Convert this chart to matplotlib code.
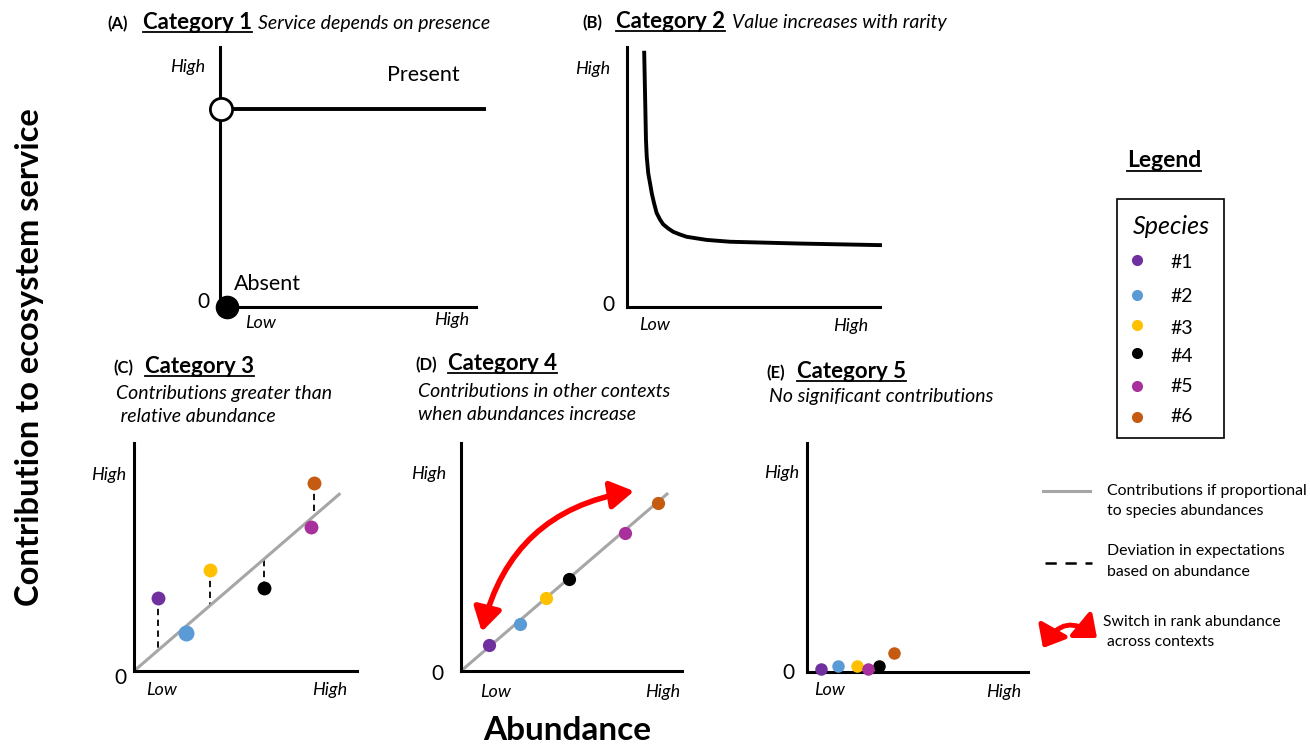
import matplotlib
matplotlib.use('Agg')
import matplotlib.pyplot as plt
from matplotlib.patches import FancyArrowPatch, Rectangle

plt.rcParams['font.family'] = ['Lato', 'DejaVu Sans']

W, H = 1310, 744

# species
species = ['#1', '#2', '#3', '#4', '#5', '#6']
species_colors = ['#7030A0', '#5B9BD5', '#FFC000', '#000000', '#A8309C', '#C55A11']

# (A) category 1: presence / absence
cat1_present_level = 0.76
cat1_present_x = [0.0, 1.04]
cat1_absent = (0.027, 0.0)

# (B) category 2: value increases with rarity
cat2_x = [0.068, 0.071, 0.075, 0.078, 0.084, 0.091, 0.098, 0.107, 0.117, 0.130,
          0.143, 0.163, 0.183, 0.209, 0.236, 0.315, 0.407, 0.526, 0.684, 1.0]
cat2_y = [0.978, 0.835, 0.642, 0.578, 0.514, 0.476, 0.437, 0.399, 0.362, 0.337,
          0.318, 0.302, 0.289, 0.279, 0.270, 0.258, 0.251, 0.248, 0.244, 0.238]

# (C) category 3
cat3_abund = [0.108, 0.233, 0.341, 0.583, 0.794, 0.807]
cat3_contrib = [0.320, 0.167, 0.443, 0.364, 0.632, 0.825]
cat3_sizes = [10, 11.5, 10, 10, 10, 10]
cat3_deviates = [True, False, True, True, False, True]
cat3_line_x = [0.0, 0.92]
cat3_line_y = [0.0, 0.775]

# (D) category 4
cat4_abund = [0.127, 0.267, 0.385, 0.489, 0.742, 0.891]
cat4_contrib = [0.114, 0.206, 0.320, 0.404, 0.605, 0.737]
cat4_line_x = [0.0, 0.932]
cat4_line_y = [0.0, 0.776]
cat4_switch = [(0.094, 0.172), (0.783, 0.789)]

# (E) category 5
cat5_abund = [0.063, 0.140, 0.226, 0.326, 0.276, 0.394]
cat5_contrib = [0.013, 0.026, 0.026, 0.026, 0.013, 0.083]

GRAY = '#A6A6A6'
RED = '#FF0000'

fig = plt.figure(figsize=(W / 100, H / 100), dpi=100)


def px_axes(x0, y0, x1, y1):
    ax = fig.add_axes([x0 / W, 1 - y1 / H, (x1 - x0) / W, (y1 - y0) / H])
    ax.set_xlim(0, 1)
    ax.set_ylim(0, 1)
    for s in ['top', 'right']:
        ax.spines[s].set_visible(False)
    for s in ['left', 'bottom']:
        ax.spines[s].set_linewidth(2.2)
        ax.spines[s].set_color('black')
    ax.set_xticks([])
    ax.set_yticks([])
    ax.patch.set_alpha(0)
    return ax


# overlay in pixel coordinates for all the text
ov = fig.add_axes([0, 0, 1, 1], zorder=10)
ov.set_xlim(0, W)
ov.set_ylim(H, 0)
ov.axis('off')
ov.patch.set_alpha(0)


def txt(x, y, s, **kw):
    kw.setdefault('ha', 'center')
    kw.setdefault('va', 'center')
    return ov.text(x, y, s, **kw)


underlined = []


def title(x_lab, x_cat, x_sub, y, lab, cat, sub=None, sub_lines=None, sub_x=None):
    txt(x_lab, y, lab, ha='left', va='baseline', fontsize=12, fontweight='bold')
    t = txt(x_cat, y, cat, ha='left', va='baseline', fontsize=16, fontweight='bold')
    underlined.append((t, y + 3))
    if sub is not None:
        txt(x_sub, y, sub, ha='left', va='baseline', fontsize=14, fontstyle='italic')
    if sub_lines is not None:
        for yy, s in sub_lines:
            txt(sub_x, yy, s, ha='left', va='baseline', fontsize=14, fontstyle='italic')


def axis_labels(high, zero, low, high_x):
    txt(*high, 'High', fontsize=13, fontstyle='italic')
    txt(*zero, '0', fontsize=15)
    txt(*low, 'Low', fontsize=13, fontstyle='italic')
    txt(*high_x, 'High', fontsize=13, fontstyle='italic')


# ---- (A)
axA = px_axes(220, 47, 476, 307)
axA.plot(cat1_present_x, [cat1_present_level] * 2, color='black', lw=2.8, clip_on=False,
         solid_capstyle='butt')
axA.plot([0.004], [cat1_present_level], 'o', ms=16, mfc='white', mec='black', mew=2,
         clip_on=False, zorder=5)
axA.plot([cat1_absent[0]], [cat1_absent[1]], 'o', ms=16, color='black', clip_on=False, zorder=5)
title(107, 143, 258, 29, '(A)', 'Category 1', 'Service depends on presence')
axis_labels((188, 67), (203, 302), (261, 323), (452, 320))
txt(423, 75, 'Present', fontsize=15.5)
txt(267, 284, 'Absent', fontsize=15.5)

# ---- (B)
axB = px_axes(627, 47, 880, 307)
axB.plot(cat2_x, cat2_y, color='black', lw=2.8, clip_on=False, solid_joinstyle='round')
title(582, 616, 732, 28, '(B)', 'Category 2', 'Value increases with rarity')
axis_labels((593, 69), (608, 305), (655, 325), (851, 326))

# ---- (C)
axC = px_axes(134, 443, 357, 671)
axC.plot(cat3_line_x, cat3_line_y, color=GRAY, lw=2.2, zorder=2)
slope3 = cat3_line_y[1] / cat3_line_x[1]
for xa, yc, dev in zip(cat3_abund, cat3_contrib, cat3_deviates):
    if dev:
        axC.plot([xa, xa], [yc, slope3 * xa], color='black', lw=1.3, dashes=(3.5, 2.5), zorder=1)
for xa, yc, c, ms in zip(cat3_abund, cat3_contrib, species_colors, cat3_sizes):
    axC.plot([xa], [yc], 'o', ms=ms, color=c, mec='none', zorder=4)
title(113, 145, None, 373, '(C)', 'Category 3',
      sub_lines=[(399, 'Contributions greater than'), (422, ' relative abundance')], sub_x=116)
axis_labels((109, 475), (120, 678), (162, 690), (330, 690))

# ---- (D)
axD = px_axes(461, 443, 682, 671)
axD.plot(cat4_line_x, cat4_line_y, color=GRAY, lw=2.2, zorder=2)
for xa, yc, c in zip(cat4_abund, cat4_contrib, species_colors):
    axD.plot([xa], [yc], 'o', ms=9.5, color=c, mec='none', zorder=4)
arr = FancyArrowPatch(cat4_switch[0], cat4_switch[1], connectionstyle='arc3,rad=-0.33',
                      arrowstyle='<|-|>,head_length=0.7,head_width=0.42', mutation_scale=20,
                      color=RED, lw=4, shrinkA=0, shrinkB=0, clip_on=False, zorder=3)
axD.add_patch(arr)
title(415, 448, None, 370, '(D)', 'Category 4',
      sub_lines=[(397, 'Contributions in other contexts'), (420, 'when abundances increase')], sub_x=418)
axis_labels((429, 474), (437, 674), (496, 692), (663, 692))

# ---- (E)
axE = px_axes(807, 443, 1028, 672)
for xa, yc, c in zip(cat5_abund, cat5_contrib, species_colors):
    axE.plot([xa], [yc], 'o', ms=9, color=c, mec='none', clip_on=False, zorder=4)
title(766, 797, None, 378, '(E)', 'Category 5',
      sub_lines=[(402, 'No significant contributions')], sub_x=769)
axis_labels((782, 473), (788, 673), (830, 690), (1004, 692))

# ---- shared axis titles
txt(30, 357, 'Contribution to ecosystem service', rotation=90, fontsize=23.5, fontweight='bold')
txt(567, 731, 'Abundance', fontsize=24, fontweight='bold')

# ---- legend
t = txt(1164, 167, 'Legend', ha='center', va='baseline', fontsize=16.5, fontweight='bold')
underlined.append((t, 171))
ov.add_patch(Rectangle((1117, 199), 107, 239, fill=False, ec='black', lw=1.2))
txt(1171, 227, 'Species', fontsize=18, fontstyle='italic')
leg_y = [260, 295, 325, 353, 386, 417]
leg_ty = [263, 297, 329, 356, 387, 417]
for yy, ty, c, s in zip(leg_y, leg_ty, species_colors, species):
    ov.plot([1137], [yy], 'o', ms=8, color=c, mec='none')
    txt(1170, ty, s, ha='left', fontsize=14)

ov.plot([1043, 1090], [491, 491], color=GRAY, lw=2.2)
txt(1107, 491, 'Contributions if proportional', ha='left', fontsize=11.4)
txt(1107, 511, 'to species abundances', ha='left', fontsize=11.4)
ov.plot([1045, 1092], [563, 563], color='black', lw=1.8, dashes=(4.5, 3.5))
txt(1107, 551, 'Deviation in expectations', ha='left', fontsize=11.4)
txt(1107, 572, 'based on abundance', ha='left', fontsize=11.4)
icon = FancyArrowPatch((1043, 648), (1097, 638), connectionstyle='arc3,rad=-0.6',
                       arrowstyle='<|-|>,head_length=0.6,head_width=0.5', mutation_scale=20,
                       color=RED, lw=3.5, shrinkA=0, shrinkB=0)
ov.add_patch(icon)
txt(1103, 622, 'Switch in rank abundance', ha='left', fontsize=11.3)
txt(1103, 642, ' across contexts', ha='left', fontsize=11.3)

fig.canvas.draw()
renderer = fig.canvas.get_renderer()
for t, yy in underlined:
    bb = t.get_window_extent(renderer)
    ov.plot([bb.x0, bb.x1], [yy, yy], color='black', lw=1.3)

fig.savefig('out.png', dpi=100)
